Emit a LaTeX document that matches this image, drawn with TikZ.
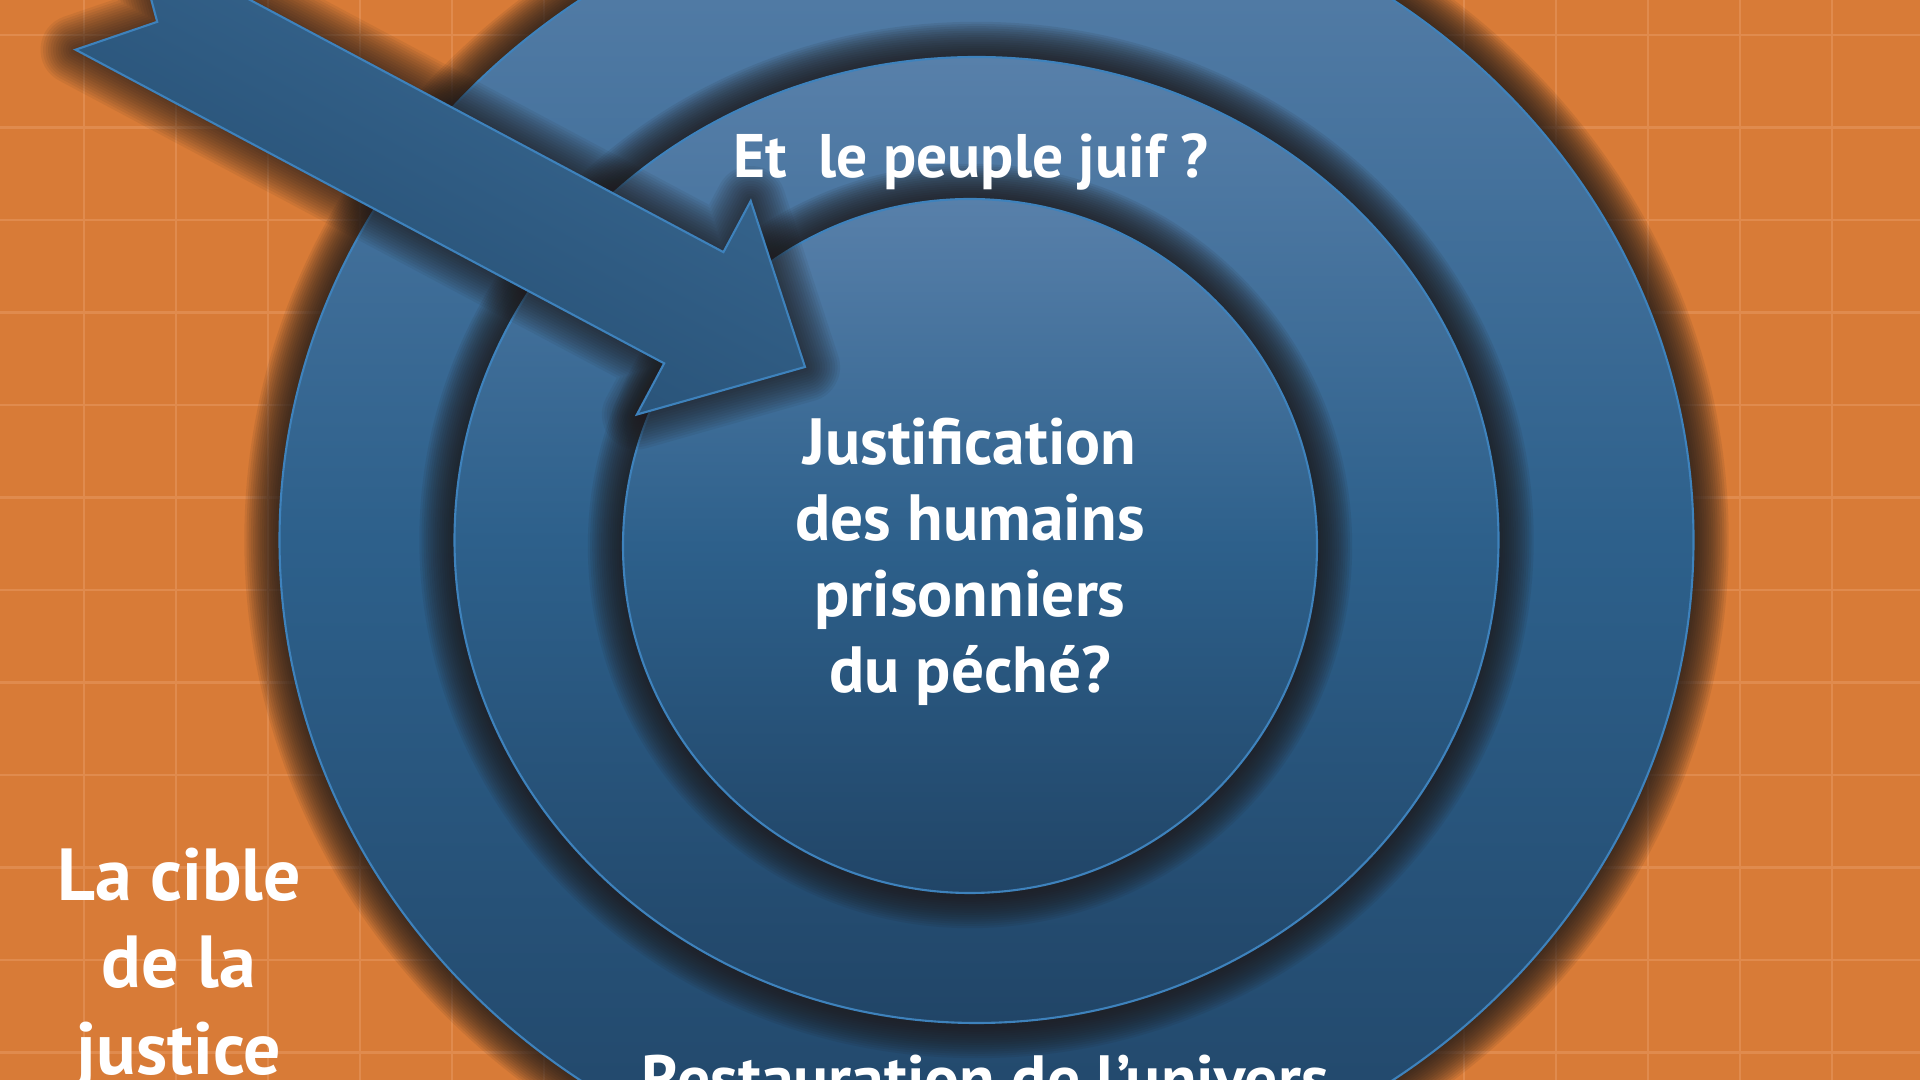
\documentclass[tikz,border=0pt]{standalone}
\usepackage{fontspec}
\setmainfont{PT Sans}
\usetikzlibrary{positioning}
\definecolor{bgorange}{RGB}{216,123,55}
\definecolor{gridline}{RGB}{224,139,78}
\definecolor{ringtop}{RGB}{88,128,170}
\definecolor{ringmid}{RGB}{45,96,139}
\definecolor{ringbot}{RGB}{33,69,103}
\definecolor{ringedge}{RGB}{62,130,188}
\definecolor{shadowdark}{RGB}{30,26,26}
\definecolor{arrowlight}{RGB}{60,108,150}
\definecolor{arrowdark}{RGB}{34,74,110}
% notched arrow, tip at the origin, pointing along +x
\newcommand{\arrowoutline}{(0,0) -- (-1.26,1.21) -- (-1.26,0.63) -- (-7.93,0.63) -- (-7.34,0) -- (-7.93,-0.63) -- (-1.26,-0.63) -- (-1.26,-1.21) -- cycle}

\begin{document}
\begin{tikzpicture}[
    ring/.style={draw=ringedge, line width=0.6pt, top color=ringtop, bottom color=ringbot, middle color=ringmid},
    ringlabel/.style={text=white, font=\bfseries\fontsize{18.6}{21.6}\selectfont, align=center},
    ciblelabel/.style={text=white, font=\bfseries\fontsize{21}{24.7}\selectfont, align=center}
  ]
    \useasboundingbox (0,0) rectangle (19.2,10.8);
    \clip (0,0) rectangle (19.2,10.8);

    % Orange backdrop with a faint grid
    \fill[bgorange] (0,0) rectangle (19.2,10.8);
    \foreach \i in {0,...,20}
        \draw[gridline, line width=0.8pt] ({0.84+0.92*\i},0) -- ++(0,10.8);
    \foreach \j in {0,...,11}
        \draw[gridline, line width=0.8pt] (0,{10.45-0.925*\j}) -- ++(19.2,0);

    % Outer ring
    \foreach \k in {1,...,16}
        \fill[shadowdark, opacity=0.09] (9.865,5.40) ellipse [x radius={7.07+0.022*\k}, y radius={6.60+0.022*\k}];
    \path[ring] (9.865,5.40) ellipse [x radius=7.07, y radius=6.60];

    % Middle ring
    \foreach \k in {1,...,16}
        \fill[shadowdark, opacity=0.09] (9.765,5.40) ellipse [x radius={5.22+0.022*\k}, y radius={4.83+0.022*\k}];
    \path[ring] (9.765,5.40) ellipse [x radius=5.22, y radius=4.83];

    % Inner disc
    \foreach \k in {1,...,16}
        \fill[shadowdark, opacity=0.09] (9.70,5.34) circle ({3.47+0.022*\k});
    \path[ring] (9.70,5.34) circle (3.47);

    % Arrow aimed at the centre
    \begin{scope}[shift={(8.05,7.13)}, rotate=-28.05]
        \foreach \k in {1,...,14}
            \draw[shadowdark, opacity=0.07, line width=\k*0.5mm, line join=round] \arrowoutline;
        \path[draw=ringedge, line width=0.6pt, top color=arrowlight, bottom color=arrowdark, shading angle=-28] \arrowoutline;
    \end{scope}

    % Labels
    \node[ringlabel, font=\bfseries\fontsize{17.5}{21.6}\selectfont, anchor=base] (peuple) at (9.71,9.02) {Et\ \ le peuple juif ?};
    \node[ringlabel] (justif) at (9.70,5.18) {Justification\\des humains\\prisonniers\\du péché?};
    \node[ringlabel, anchor=base] (univers) at (9.85,-0.22) {Restauration de l’univers};
    \node[ciblelabel] (cible) at (1.79,1.11) {La cible\\de la\\justice};
\end{tikzpicture}
\end{document}
